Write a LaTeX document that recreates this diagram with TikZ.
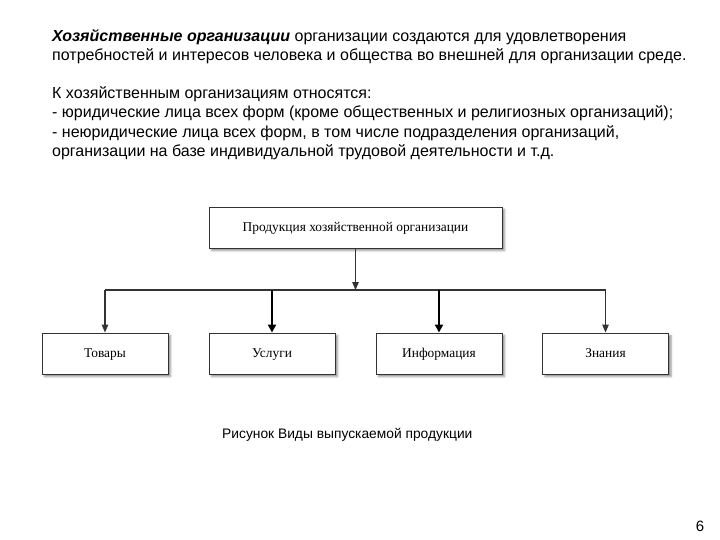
\documentclass[tikz,border=0pt]{standalone}
\usepackage{fontspec}
\setmainfont{Liberation Sans}
\newfontfamily\boxfont{Liberation Serif}
\usetikzlibrary{arrows.meta,shadows.blur}
\begin{document}
\begin{tikzpicture}[x=1pt,y=-1pt,
  txt/.style={anchor=base west,inner sep=0pt,font=\fontsize{16}{19}\selectfont},
  box/.style={draw=black!80,line width=0.9pt,fill=white,minimum height=41pt,inner sep=0pt,
    text height=10pt,text depth=2pt,
    font=\boxfont\fontsize{13.4}{15}\selectfont,
    blur shadow={shadow xshift=2.5pt,shadow yshift=-2.5pt,shadow blur radius=2pt,shadow opacity=45}},
  thin/.style={draw=black!80,line width=1.1pt},
  thinarr/.style={thin,-{Triangle[length=8pt,width=6.5pt]}},
  thickarr/.style={draw=black,line width=2.4pt,-{Triangle[length=8pt,width=8pt]}}]
\useasboundingbox (0,0) rectangle (720,540);
\node[txt] (l1) at (52,42) {\textbf{\textit{Хозяйственные организации}} организации создаются для удовлетворения};
\node[txt] (l2) at (52,61) {потребностей и интересов человека и общества во внешней для организации среде.};
\node[txt] (l4) at (52,99) {К хозяйственным организациям относятся:};
\node[txt] (l5) at (52,118) {- юридические лица всех форм (кроме общественных и религиозных организаций);};
\node[txt] (l6) at (52,137.5) {- неюридические лица всех форм, в том числе подразделения организаций,};
\node[txt] (l7) at (52,156.5) {организации на базе индивидуальной трудовой деятельности и т.д.};
\node[box,minimum width=293pt] (top) at (355.5,227.5) {Продукция хозяйственной организации};
\node[box,minimum width=126pt] (b1) at (105,353.5) {Товары};
\node[box,minimum width=126pt] (b2) at (272,353.5) {Услуги};
\node[box,minimum width=126pt] (b3) at (439,353.5) {Информация};
\node[box,minimum width=126pt] (b4) at (605.5,353.5) {Знания};
\coordinate (hl) at (105,290);
\coordinate (hr) at (605.5,290);
\draw[thin] (hl) -- (hr);
\draw[thinarr] (top.south) -- (top.south |- hl);
\draw[thinarr] (hl) -- (b1.north);
\draw[thickarr] (b2.north |- hl) -- (b2.north);
\draw[thickarr] (b3.north |- hl) -- (b3.north);
\draw[thinarr] (hr) -- (b4.north);
\node[anchor=base west,inner sep=0pt,font=\fontsize{13.8}{16}\selectfont] (cap) at (222,438) {Рисунок Виды выпускаемой продукции};
\node[anchor=base,inner sep=0pt,font=\fontsize{15}{17}\selectfont] (pg) at (700,531) {6};
\end{tikzpicture}
\end{document}
